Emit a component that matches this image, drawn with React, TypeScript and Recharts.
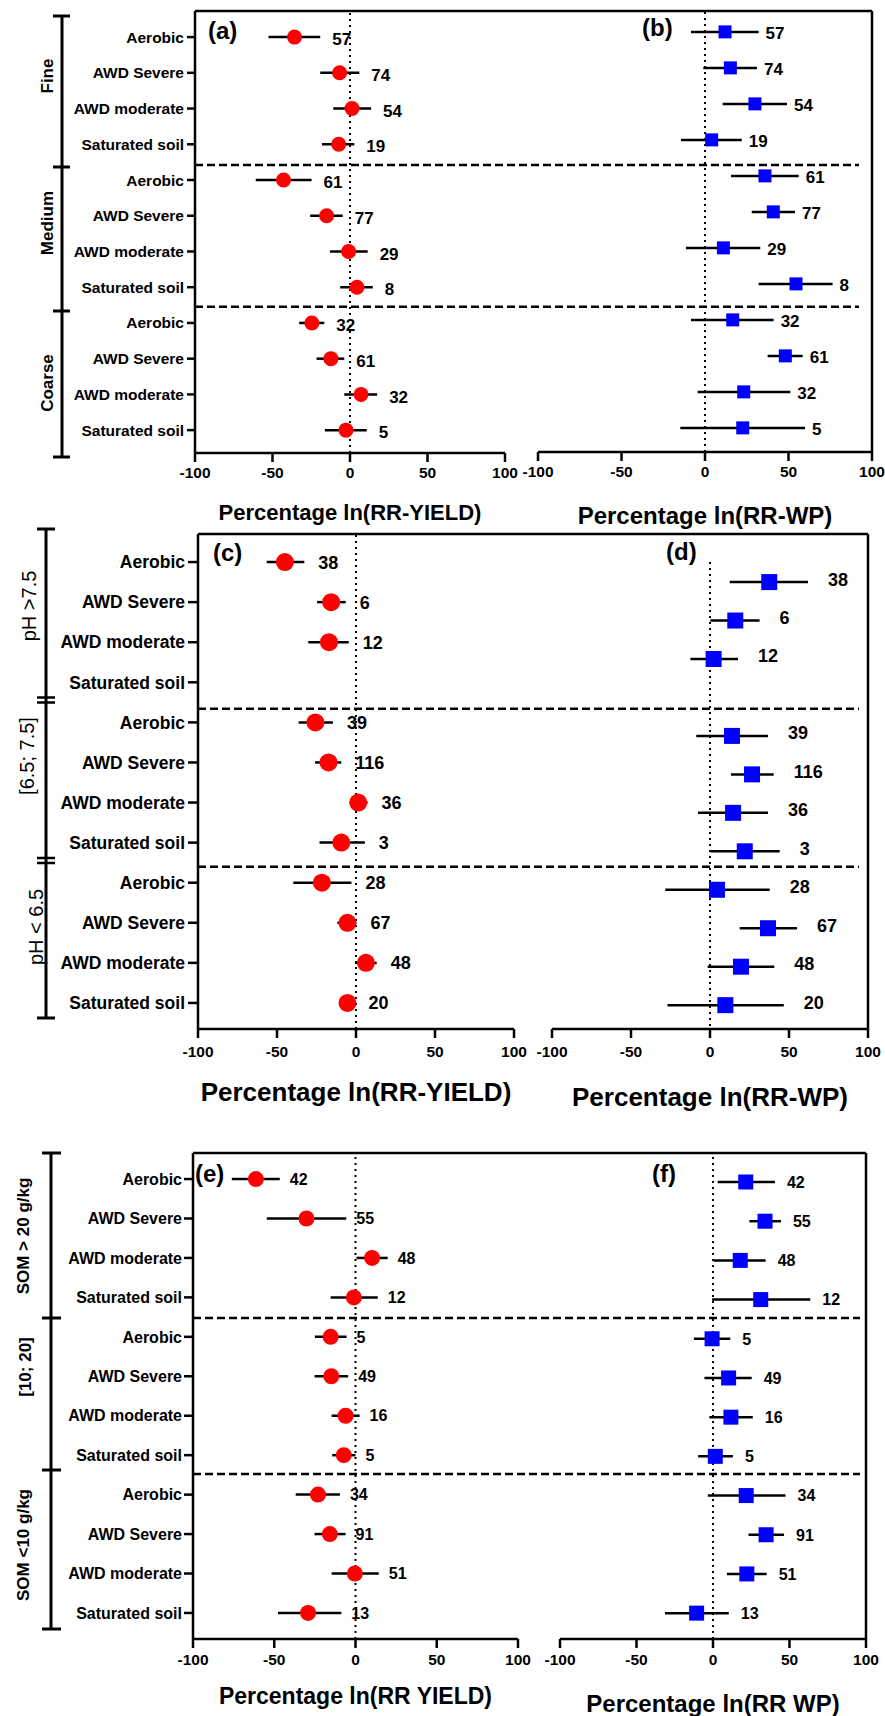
import React from 'react';
import { ScatterChart, Scatter, XAxis, YAxis, ErrorBar, ReferenceLine } from 'recharts';

const FONT = '"Liberation Sans", Arial, Helvetica, sans-serif';
const W = 885;
const H = 1716;

const treatments = ['Aerobic', 'AWD Severe', 'AWD moderate', 'Saturated soil'];
const positions = [1, 2, 3, 4, 5, 6, 7, 8, 9, 10, 11, 12];
const xTicks = [-100, -50, 0, 50, 100];

const textureGroups = ['Fine', 'Medium', 'Coarse'];
const phGroups = ['pH >7.5', '[6.5; 7.5]', 'pH < 6.5'];
const somGroups = ['SOM > 20 g/kg', '[10; 20]', 'SOM <10 g/kg'];
const panelLetters = ['(a)', '(b)', '(c)', '(d)', '(e)', '(f)'];

// ---- Row 1: soil texture ----
const texN = [57, 74, 54, 19, 61, 77, 29, 8, 32, 61, 32, 5];
const texYieldMean = [-35.8, -6.7, 1.3, -7.3, -42.9, -15.1, -0.9, 4.5, -24.6, -12.3, 7.1, -2.6];
const texYieldLow = [-52.6, -19.2, -10.8, -18.1, -60.8, -25.7, -12.9, -6.3, -32.8, -21.6, -3.7, -16.2];
const texYieldHigh = [-19.2, 6.0, 13.6, 2.8, -24.8, -4.7, 11.4, 14.7, -16.6, -3.7, 17.5, 10.8];
const texWpMean = [12.0, 15.2, 29.9, 4.0, 35.9, 40.9, 11.0, 54.5, 16.6, 48.1, 23.2, 22.6];
const texWpLow = [-8.4, -1.0, 10.6, -14.4, 15.6, 28.0, -11.4, 32.1, -8.4, 37.5, -4.4, -14.8];
const texWpHigh = [32.1, 31.1, 49.1, 22.0, 56.1, 53.9, 33.1, 76.4, 41.1, 58.5, 51.1, 59.9];

// ---- Row 2: soil pH ----
const phN = [38, 6, 12, null, 39, 116, 36, 3, 28, 67, 48, 20];
const phYieldMean = [-45.0, -15.7, -17.1, null, -25.7, -17.4, 1.4, -9.3, -21.6, -5.4, 6.3, -5.4];
const phYieldLow = [-56.5, -24.6, -30.2, null, -36.3, -25.9, -4.0, -23.1, -39.7, -11.8, -0.7, -9.5];
const phYieldHigh = [-32.7, -6.5, -4.6, null, -14.6, -9.3, 7.3, 5.6, -2.9, 0.3, 13.1, -1.0];
const phWpMean = [37.5, 16.0, 2.3, null, 13.9, 26.6, 14.6, 22.0, 4.4, 36.7, 19.6, 9.7];
const phWpLow = [12.5, 0.2, -12.4, null, -8.7, 13.3, -7.6, 0.2, -28.3, 18.8, -1.5, -26.9];
const phWpHigh = [62.0, 31.4, 17.7, null, 36.7, 40.3, 36.7, 44.1, 37.8, 55.1, 40.7, 46.7];

// ---- Row 3: soil organic matter ----
const somN = [42, 55, 48, 12, 5, 49, 16, 5, 34, 91, 51, 13];
const somYieldMean = [-61.3, -30.2, 10.2, -1.0, -15.3, -14.9, -6.1, -7.2, -23.1, -15.8, -0.4, -29.2];
const somYieldLow = [-76.1, -54.6, 0.6, -15.3, -25.0, -25.2, -14.7, -14.3, -36.8, -25.2, -14.7, -47.7];
const somYieldHigh = [-46.6, -5.7, 19.8, 13.7, -5.5, -4.5, 2.5, 0.0, -9.6, -6.1, 14.3, -8.7];
const somWpMean = [21.4, 34.0, 17.8, 31.2, -0.6, 10.2, 11.7, 1.5, 21.7, 34.7, 22.1, -10.7];
const somWpLow = [3.1, 23.8, 0.5, -0.6, -12.5, -5.6, -2.4, -9.7, -3.4, 23.2, 9.1, -31.4];
const somWpHigh = [40.5, 44.4, 34.4, 63.6, 11.3, 25.3, 26.0, 13.0, 47.4, 46.4, 35.1, 10.3];

type Pt = { pos: number; v: number; err: [number, number]; hi: number; n: number };

function build(mean: any[], lo: any[], hi: any[], n: any[]): Pt[] {
  const out: Pt[] = [];
  mean.forEach((m, i) => {
    if (m == null) return;
    out.push({ pos: positions[i], v: m, err: [m - lo[i], hi[i] - m], hi: hi[i], n: n[i] });
  });
  return out;
}

const panels: any[] = [
  {
    data: build(texYieldMean, texYieldLow, texYieldHigh, texN),
    side: 'L', left: 195, right: 505, top: 11, axisY: 453, domain: [0.27, 12.64],
    marker: 'circle', size: 15, color: '#ff0000',
    catFont: 15.5, tickFont: 15.5, numFont: 17, numOffset: 12, numDy: 2,
    tickMargin: 5, yTickSize: 8, yTickMargin: 3,
    title: 'Percentage ln(RR-YIELD)', titleSize: 22, titleOffset: 21,
    separators: [4.58, 8.55], sepEndPx: 859, borderEndPx: 872,
  },
  {
    data: build(texWpMean, texWpLow, texWpHigh, texN),
    side: 'R', left: 538, right: 872, top: 11, axisY: 452, domain: [0.42, 12.67],
    marker: 'square', size: 13, color: '#0000ff',
    tickFont: 15.5, numFont: 17, numOffset: 7, numDy: 1,
    tickMargin: 5,
    title: 'Percentage ln(RR-WP)', titleSize: 24, titleOffset: 25,
  },
  {
    data: build(phYieldMean, phYieldLow, phYieldHigh, phN),
    side: 'L', left: 198, right: 514, top: 534, axisY: 1029, domain: [0.3, 12.65],
    marker: 'circle', size: 18, color: '#ff0000',
    catFont: 17.5, tickFont: 15.5, numFont: 18, numOffset: 14, numDy: 0,
    tickMargin: 8, yTickSize: 10, yTickMargin: 3,
    title: 'Percentage ln(RR-YIELD)', titleSize: 26, titleOffset: 24,
    separators: [4.66, 8.6], sepEndPx: 859, borderEndPx: 868,
  },
  {
    data: build(phWpMean, phWpLow, phWpHigh, phN),
    side: 'R', left: 552, right: 868, top: 534, axisY: 1029, domain: [-0.25, 12.62],
    marker: 'square', size: 16, color: '#0000ff',
    tickFont: 15.5, numFont: 18, numOffset: 20, numDy: -3,
    tickMargin: 8, zeroFrom: 0.48,
    title: 'Percentage ln(RR-WP)', titleSize: 26, titleOffset: 29,
  },
  {
    data: build(somYieldMean, somYieldLow, somYieldHigh, somN),
    side: 'L', left: 193, right: 518, top: 1153, axisY: 1639, domain: [0.34, 12.66],
    marker: 'circle', size: 16, color: '#ff0000',
    catFont: 16, tickFont: 15.5, numFont: 16, numOffset: 10, numDy: 0,
    tickMargin: 6, yTickSize: 9, yTickMargin: 2,
    title: 'Percentage ln(RR YIELD)', titleSize: 23, titleOffset: 19,
    separators: [4.52, 8.48], sepEndPx: 860, borderEndPx: 866,
  },
  {
    data: build(somWpMean, somWpLow, somWpHigh, somN),
    side: 'R', left: 560, right: 866, top: 1153, axisY: 1639, domain: [0.26, 12.66],
    marker: 'square', size: 15, color: '#0000ff',
    tickFont: 15.5, numFont: 16, numOffset: 12, numDy: 0,
    tickMargin: 6,
    title: 'Percentage ln(RR WP)', titleSize: 24, titleOffset: 26,
  },
];

function Panel(p: any) {
  const chartH = Math.min(p.axisY + 90, H);
  const xAxisH = 30;
  const isL = p.side === 'L';
  const pxToX = (px: number) => -100 + (200 * (px - p.left)) / (p.right - p.left);
  const margin = {
    top: p.top,
    right: W - p.right,
    bottom: chartH - p.axisY - xAxisH,
    left: isL ? 0 : p.left,
  };
  const markerShape = (s: any) => {
    const { cx, cy } = s;
    if (cx == null || cy == null) return <g />;
    if (p.marker === 'circle') return <circle cx={cx} cy={cy} r={p.size / 2} fill={p.color} />;
    return <rect x={cx - p.size / 2} y={cy - p.size / 2} width={p.size} height={p.size} fill={p.color} />;
  };
  const numShape = (s: any) => {
    const { cx, cy, payload } = s;
    if (cx == null || cy == null) return <g />;
    return (
      <text x={cx + p.numOffset} y={cy + p.numDy} dy="0.36em" fontSize={p.numFont} fontWeight="bold" fontFamily={FONT} fill="#000">
        {payload.n}
      </text>
    );
  };
  const labelData = p.data.map((d: Pt) => ({ pos: d.pos, v: d.hi, n: d.n }));
  const axisStroke = { stroke: '#000', strokeWidth: 2.5 };
  return (
    <div style={{ position: 'absolute', left: 0, top: 0, width: W, height: chartH, pointerEvents: 'none' }}>
      <ScatterChart width={W} height={chartH} margin={margin}>
        <XAxis
          type="number"
          dataKey="v"
          domain={[-100, 100]}
          allowDataOverflow
          ticks={xTicks}
          interval={0}
          height={xAxisH}
          tickSize={9}
          tickMargin={p.tickMargin}
          axisLine={axisStroke}
          tickLine={axisStroke}
          tick={{ fill: '#000', fontSize: p.tickFont, fontWeight: 'bold', fontFamily: FONT }}
          label={{
            value: p.title,
            position: 'bottom',
            offset: p.titleOffset,
            fill: '#000',
            fontSize: p.titleSize,
            fontWeight: 'bold',
            fontFamily: FONT,
          }}
        />
        {isL ? (
          <YAxis
            type="number"
            dataKey="pos"
            domain={p.domain}
            allowDataOverflow
            reversed
            ticks={positions}
            interval={0}
            width={p.left}
            tickSize={p.yTickSize}
            tickMargin={p.yTickMargin}
            tickFormatter={(v: number) => treatments[(Math.round(v) - 1) % 4]}
            axisLine={axisStroke}
            tickLine={axisStroke}
            tick={{ fill: '#000', fontSize: p.catFont, fontWeight: 'bold', fontFamily: FONT }}
          />
        ) : (
          <YAxis type="number" dataKey="pos" domain={p.domain} allowDataOverflow reversed hide />
        )}
        {p.zeroFrom != null ? (
          <ReferenceLine
            segment={[{ x: 0, y: p.zeroFrom }, { x: 0, y: p.domain[1] }]}
            ifOverflow="visible"
            stroke="#000"
            strokeWidth={2}
            strokeDasharray="2 4"
          />
        ) : (
          <ReferenceLine x={0} ifOverflow="visible" stroke="#000" strokeWidth={2} strokeDasharray="2 4" />
        )}
        {isL &&
          p.separators.map((s: number, i: number) => (
            <ReferenceLine
              key={'sep' + i}
              segment={[{ x: -100, y: s }, { x: pxToX(p.sepEndPx), y: s }]}
              ifOverflow="visible"
              stroke="#000"
              strokeWidth={2.5}
              strokeDasharray="8 4"
            />
          ))}
        {isL && (
          <ReferenceLine
            segment={[{ x: -100, y: p.domain[0] }, { x: pxToX(p.borderEndPx), y: p.domain[0] }]}
            ifOverflow="visible"
            stroke="#000"
            strokeWidth={2.5}
          />
        )}
        {!isL && <ReferenceLine x={100} ifOverflow="visible" stroke="#000" strokeWidth={2.5} />}
        <Scatter data={p.data} isAnimationActive={false} shape={markerShape}>
          <ErrorBar dataKey="err" direction="x" width={0} stroke="#000" strokeWidth={2.5} isAnimationActive={false} />
        </Scatter>
        <Scatter data={labelData} isAnimationActive={false} shape={numShape} />
      </ScatterChart>
    </div>
  );
}

const brackets = [
  { x: 62, x1: 53, x2: 70, y1: 16, y2: 457, ticks: [16, 167, 311, 457], doubles: [] as number[] },
  { x: 46, x1: 37, x2: 55, y1: 529, y2: 1018, ticks: [529, 1018], doubles: [697.5, 702.5, 858, 863] },
  { x: 51, x1: 42, x2: 61, y1: 1153, y2: 1629, ticks: [1153, 1318, 1470, 1629], doubles: [] as number[] },
];

const groupLabelSets = [
  { names: textureGroups, at: [[47, 76], [47, 223], [47, 383]], size: 17, weight: 'bold' },
  { names: phGroups, at: [[29, 606], [27, 756], [36, 927]], size: 20, weight: 'normal' },
  { names: somGroups, at: [[23, 1236], [25, 1367], [23, 1545]], size: 17, weight: 'bold' },
];

const letterAt = [[208, 30], [642, 27], [213, 552], [666, 551], [195, 1173], [652, 1173]];

function Overlay() {
  return (
    <svg width={W} height={H} style={{ position: 'absolute', left: 0, top: 0, pointerEvents: 'none' }}>
      {brackets.map((b, i) => (
        <g key={'b' + i} stroke="#000" strokeWidth={3}>
          <line x1={b.x} x2={b.x} y1={b.y1} y2={b.y2} />
          {b.ticks.map((t, j) => (
            <line key={j} x1={b.x1} x2={b.x2} y1={t} y2={t} />
          ))}
          {b.doubles.map((t, j) => (
            <line key={'d' + j} x1={b.x1} x2={b.x2} y1={t} y2={t} strokeWidth={2.5} />
          ))}
        </g>
      ))}
      {groupLabelSets.map((g, i) =>
        g.names.map((name, j) => {
          const [x, y] = g.at[j];
          return (
            <text
              key={'g' + i + j}
              x={x}
              y={y}
              dy="0.36em"
              textAnchor="middle"
              transform={`rotate(-90 ${x} ${y})`}
              fontSize={g.size}
              fontWeight={g.weight}
              fontFamily={FONT}
              fill="#000"
            >
              {name}
            </text>
          );
        })
      )}
      {panelLetters.map((l, i) => (
        <text key={'l' + i} x={letterAt[i][0]} y={letterAt[i][1]} dy="0.36em" fontSize={24} fontWeight="bold" fontFamily={FONT} fill="#000">
          {l}
        </text>
      ))}
    </svg>
  );
}

export default function App() {
  return (
    <div style={{ position: 'absolute', left: 0, top: 0, width: W, height: H, background: '#fff', overflow: 'hidden', fontFamily: FONT }}>
      {panels.map((p, i) => (
        <Panel key={i} {...p} />
      ))}
      <Overlay />
    </div>
  );
}
